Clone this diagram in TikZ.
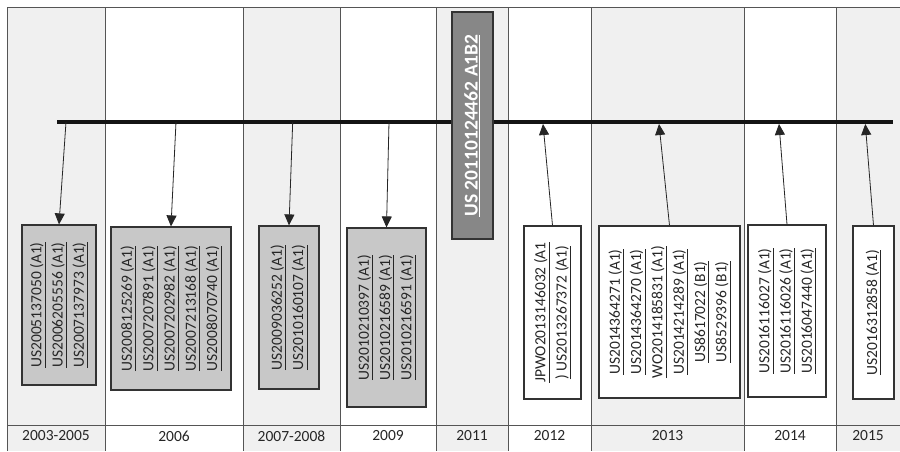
\documentclass[tikz,border=0pt]{standalone}
\usepackage{fontspec}
\setmainfont{Carlito}
\usetikzlibrary{arrows.meta}
\definecolor{bgshade}{HTML}{F0F0F0}
\definecolor{gridline}{HTML}{555555}
\definecolor{boxgray}{HTML}{C8C8C8}
\definecolor{boxdark}{HTML}{878787}
\definecolor{boxline}{HTML}{333333}
\definecolor{textgray}{HTML}{262626}
\newcommand\ulx[1]{\underline{#1}}
\begin{document}
\begin{tikzpicture}[x=1pt,y=-1pt,
  grid/.style={draw=gridline,line width=0.9pt},
  patbox/.style={draw=boxline,line width=1.2pt,inner sep=0pt},
  graybox/.style={patbox,fill=boxgray},
  whitebox/.style={patbox,fill=white},
  darkbox/.style={patbox,fill=boxdark,draw=black!80},
  txt/.style={rotate=90,align=center,inner sep=0pt,text=textgray,font=\fontsize{15.5}{21.3}\selectfont},
  bigtxt/.style={rotate=90,align=center,inner sep=0pt,text=white,font=\bfseries\fontsize{19.5}{23}\selectfont},
  year/.style={text=textgray,font=\fontsize{15.5}{18}\selectfont,inner sep=0pt},
  arr/.style={draw=black!85,line width=0.8pt,-{Triangle[length=11pt,width=10pt]}},
  timeline/.style={draw=black!92,line width=4pt}]
\useasboundingbox (0,0) rectangle (900,451);
\fill[white] (0,0) rectangle (900,451);
% shaded columns
\fill[bgshade] (7,7) rectangle (105,451);
\fill[bgshade] (243,7) rectangle (340,451);
\fill[bgshade] (436,7) rectangle (508,451);
\fill[bgshade] (591,7) rectangle (744,451);
\fill[bgshade] (836,7) rectangle (900,451);
% grid
\draw[grid] (7,7) -- (900,7);
\draw[grid] (7,425) -- (900,425);
\foreach \x in {7,105,243,340,436,508,591,744,836}{\draw[grid] (\x,7) -- (\x,451);}
% years
\node[year] (y1) at (56,436) {2003-2005};
\node[year] (y2) at (174,436) {2006};
\node[year] (y3) at (291.5,436) {2007-2008};
\node[year] (y4) at (388,436) {2009};
\node[year] (y5) at (472,436) {2011};
\node[year] (y6) at (549.5,436) {2012};
\node[year] (y7) at (667.5,436) {2013};
\node[year] (y8) at (790,436) {2014};
\node[year] (y9) at (868,436) {2015};
% timeline
\coordinate (tl) at (57,122);
\coordinate (tr) at (893,122);
\draw[timeline] (tl) -- (tr);
\coordinate (t1) at (66,122);
\coordinate (t2) at (176,122);
\coordinate (t3) at (292.7,122);
\coordinate (t4) at (389,122);
\coordinate (t6) at (543,124);
\coordinate (t7) at (659,124);
\coordinate (t8) at (779,124);
\coordinate (t9) at (865.3,124);
% boxes
\node[graybox,minimum width=74pt,minimum height=160pt] (b1) at (59,305) {};
\node[graybox,minimum width=120pt,minimum height=163pt] (b2) at (171,308.5) {};
\node[graybox,minimum width=60pt,minimum height=163pt] (b3) at (289,307.5) {};
\node[graybox,minimum width=79pt,minimum height=179pt] (b4) at (386.5,317.5) {};
\node[darkbox,minimum width=41pt,minimum height=227pt] (b5) at (472.5,125.5) {};
\node[whitebox,minimum width=57pt,minimum height=173pt] (b6) at (552.5,312.5) {};
\node[whitebox,minimum width=141pt,minimum height=172pt] (b7) at (669.5,312) {};
\node[whitebox,minimum width=78pt,minimum height=172pt] (b8) at (787,311) {};
\node[whitebox,minimum width=41pt,minimum height=173pt] (b9) at (873.5,312.5) {};
% texts
\node[txt] (x1) at (b1.center) {\ulx{US2005137050 (A1)}\\\ulx{US2006205556 (A1)}\\\ulx{US2007137973 (A1)}};
\node[txt] (x2) at (b2.center) {\ulx{US2008125269 (A1)}\\\ulx{US2007207891 (A1)}\\\ulx{US2007202982 (A1)}\\\ulx{US2007213168 (A1)}\\\ulx{US2008070740 (A1)}};
\node[txt] (x3) at (b3.center) {\ulx{US2009036252 (A1)}\\\ulx{US2010160107 (A1)}};
\node[txt] (x4) at (b4.center) {\ulx{US2010210397 (A1)}\\\ulx{US2010216589 (A1)}\\\ulx{US2010216591 (A1)}};
\node[bigtxt] (x5) at ([xshift=-0.5pt]b5.center) {\ulx{US 20110124462 A1B2}};
\node[txt] (x6) at (b6.center) {\ulx{JPWO2013146032 (A1}\\\ulx{) US2013267372 (A1)}};
\node[txt] (x7) at (b7.center) {\ulx{US2014364271 (A1)}\\\ulx{US2014364270 (A1)}\\\ulx{WO2014185831 (A1)}\\\ulx{US2014214289 (A1)}\\\ulx{US8617022 (B1)}\\\ulx{US8529396 (B1)}};
\node[txt] (x8) at (b8.center) {\ulx{US2016116027 (A1)}\\\ulx{US2016116026 (A1)}\\\ulx{US2016047440 (A1)}};
\node[txt] (x9) at (b9.center) {\ulx{US2016312858 (A1)}};
% arrows
\draw[arr] (t1) -- (b1.north);
\draw[arr] (t2) -- (b2.north);
\draw[arr] (t3) -- (b3.north);
\draw[arr] (t4) -- (b4.north);
\draw[arr] (b6.north) -- (t6);
\draw[arr] (b7.north) -- (t7);
\draw[arr] (b8.north) -- (t8);
\draw[arr] (b9.north) -- (t9);
\end{tikzpicture}
\end{document}
